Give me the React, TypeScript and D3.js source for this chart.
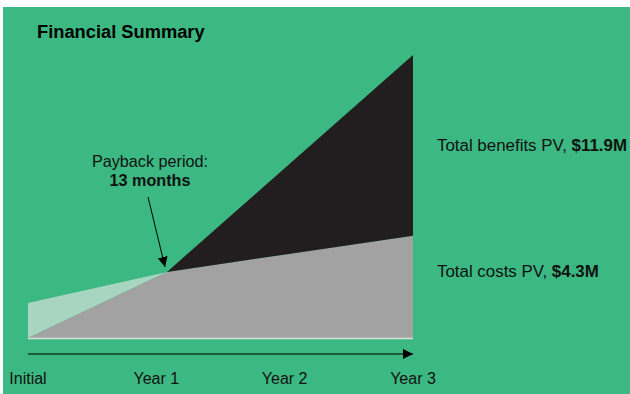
import React from "react";
import * as d3 from "d3";

const months = [0, 13, 36];
const benefits = [0, 2.78, 11.9];
const costs = [1.47, 2.78, 4.3];
const tickMonths = [0, 12, 24, 36];
const tickLabels = ["Initial", "Year 1", "Year 2", "Year 3"];

const W = 630;
const H = 394;

export default function App() {
  const x = d3.scaleLinear().domain([0, 36]).range([28, 413]);
  const y = d3.scaleLinear().domain([0, 11.9]).range([338, 55]);
  const pts = months.map((m, i) => ({ m, b: benefits[i], c: costs[i] }));

  const gray = d3
    .area<any>()
    .x((d) => x(d.m))
    .y0(() => y(0))
    .y1((d) => y(Math.min(d.b, d.c)))(pts)!;
  const black = d3
    .area<any>()
    .x((d) => x(d.m))
    .y0((d) => y(d.c))
    .y1((d) => y(Math.max(d.b, d.c)))(pts)!;
  const light = d3
    .area<any>()
    .x((d) => x(d.m))
    .y0((d) => y(d.b))
    .y1((d) => y(Math.max(d.b, d.c)))(pts)!;

  const font = "Liberation Sans, Arial, sans-serif";
  const crossX = x(13);
  const crossY = y(2.78);

  return (
    <svg
      width={W}
      height={H}
      style={{ position: "absolute", left: 0, top: 0, display: "block" }}
      fontFamily={font}
    >
      <rect x={0} y={0} width={W} height={H} fill="#ffffff" />
      <rect x={3} y={7} width={W - 3} height={H - 7} fill="#3cb882" />
      <defs>
        <marker id="arr" viewBox="0 0 10 10" refX={10} refY={5} markerWidth={10} markerHeight={10} markerUnits="userSpaceOnUse" orient="auto">
          <path d="M0,0 L10,5 L0,10 Z" fill="#000" />
        </marker>
        <marker id="axarr" viewBox="0 0 10 10" refX={10} refY={5} markerWidth={10} markerHeight={10} markerUnits="userSpaceOnUse" orient="auto">
          <path d="M0,0 L10,5 L0,10 Z" fill="#000" />
        </marker>
      </defs>
      <text x={37} y={38} fontSize={18.3} fontWeight="bold" fill="#000">
        Financial Summary
      </text>
      <path d={light} fill="#a8d5bf" />
      <path d={gray} fill="#a2a2a2" />
      <path d={black} fill="#221e1f" />
      <line x1={x(0)} x2={x(36)} y1={y(0) + 0.5} y2={y(0) + 0.5} stroke="#d8e0dc" strokeWidth={1.5} />
      <line
        x1={x(0)}
        x2={x(36)}
        y1={354}
        y2={354}
        stroke="#1d5a3c"
        strokeWidth={2}
        markerEnd="url(#axarr)"
      />
      {tickMonths.map((m, i) => (
        <text key={i} x={x(m)} y={384} fontSize={16} textAnchor="middle" fill="#111">
          {tickLabels[i]}
        </text>
      ))}
      <text x={150} y={167} fontSize={16.2} textAnchor="middle" fill="#111">
        Payback period:
      </text>
      <text x={150} y={186} fontSize={16.2} fontWeight="bold" textAnchor="middle" fill="#111">
        13 months
      </text>
      <line
        x1={148}
        y1={197}
        x2={crossX - 2}
        y2={crossY - 5}
        stroke="#000"
        strokeWidth={1}
        markerEnd="url(#arr)"
      />
      <text x={437} y={151} fontSize={16.9} fill="#111">
        Total benefits PV, <tspan fontWeight="bold">${benefits[2].toFixed(1)}M</tspan>
      </text>
      <text x={437} y={277} fontSize={16.9} fill="#111">
        Total costs PV, <tspan fontWeight="bold">${costs[2].toFixed(1)}M</tspan>
      </text>
    </svg>
  );
}
